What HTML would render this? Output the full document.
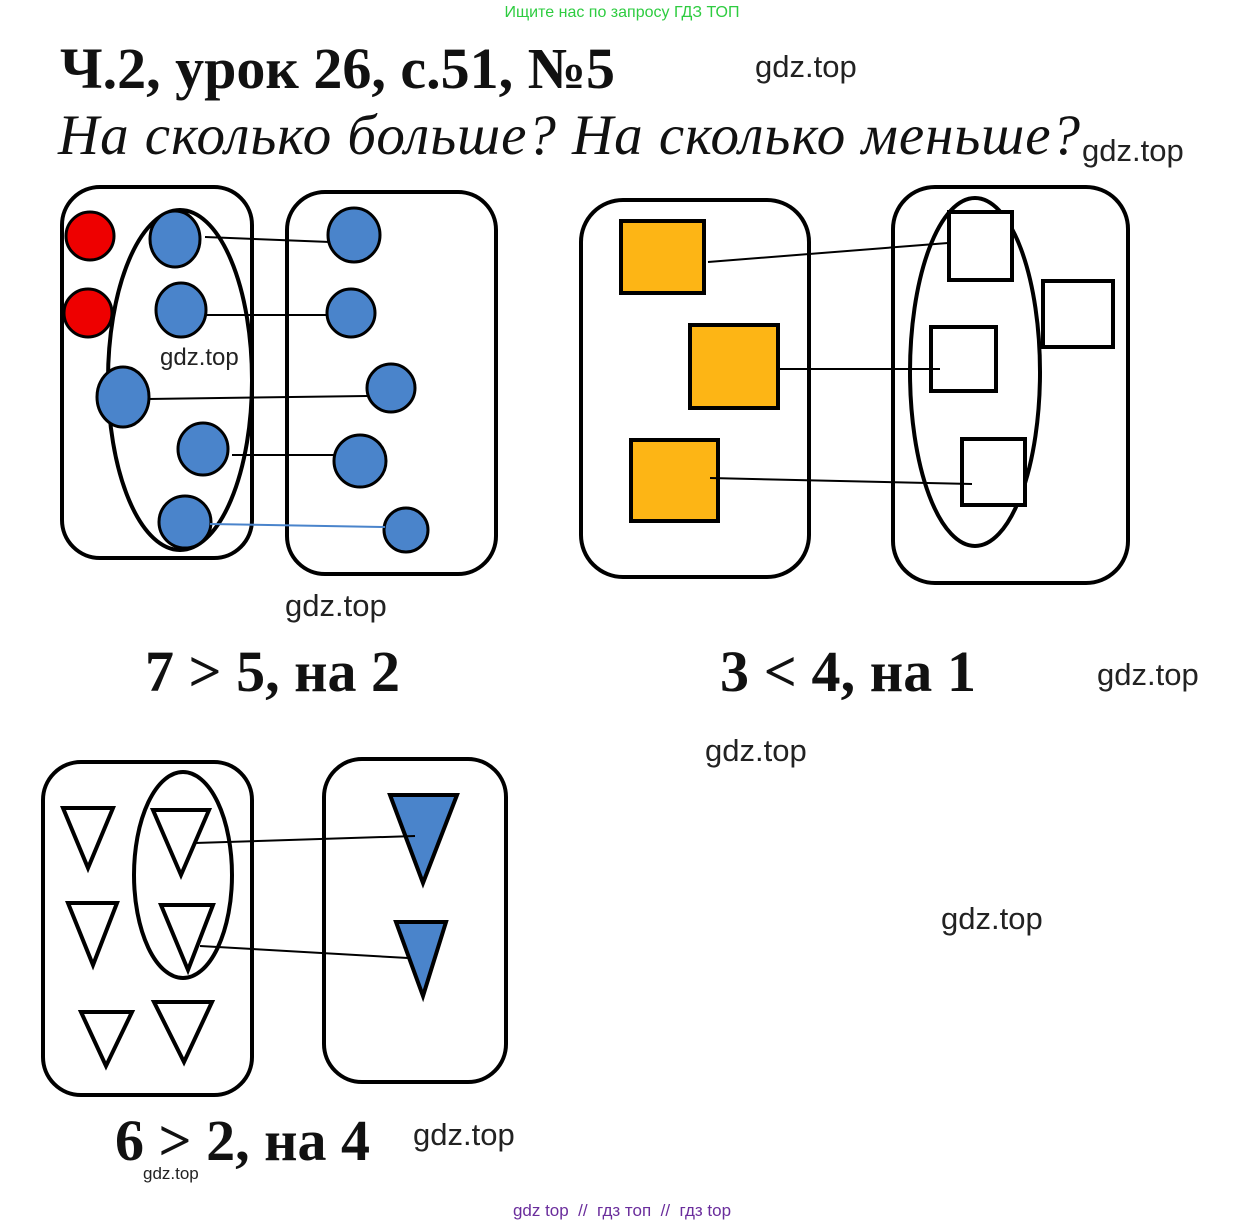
<!DOCTYPE html>
<html><head><meta charset="utf-8"><style>
body{margin:0;background:#fff;width:1245px;height:1225px;overflow:hidden}
svg{display:block}
.w{font-family:"Liberation Sans",sans-serif;font-size:31px;fill:#222}
.b{font-family:"Liberation Serif",serif;font-weight:bold;font-size:58px;fill:#111}
</style></head><body>
<svg width="1245" height="1225" viewBox="0 0 1245 1225" xmlns="http://www.w3.org/2000/svg">
<text x="622" y="17" text-anchor="middle" font-family="Liberation Sans,sans-serif" font-size="16" fill="#2ecc40">Ищите нас по запросу ГДЗ ТОП</text>
<text x="60" y="88" class="b" style="font-size:58px" textLength="555">Ч.2, урок 26, с.51, №5</text>
<text x="755" y="77" class="w">gdz.top</text>
<text x="58" y="154" font-family="Liberation Serif,serif" font-style="italic" font-size="57" fill="#111" textLength="1022">На сколько больше? На сколько меньше?</text>
<text x="1082" y="161" class="w">gdz.top</text>

<g fill="none" stroke="#000" stroke-width="4">
<rect x="62" y="187" width="190" height="371" rx="38"/>
<rect x="287" y="192" width="209" height="382" rx="38"/>
<ellipse cx="180" cy="380" rx="72" ry="170"/>
<rect x="581" y="200" width="228" height="377" rx="42"/>
<rect x="893" y="187" width="235" height="396" rx="42"/>
<ellipse cx="975" cy="372" rx="65" ry="174"/>
<rect x="43" y="762" width="209" height="333" rx="38"/>
<rect x="324" y="759" width="182" height="323" rx="38"/>
<ellipse cx="183" cy="875" rx="49" ry="103"/>
</g>
<g stroke="#000" stroke-width="3">
<circle cx="90" cy="236" r="24" fill="#e00"/>
<circle cx="88" cy="313" r="24" fill="#e00"/>
</g>
<g fill="#4a84cb" stroke="#000" stroke-width="3">
<ellipse cx="175" cy="239" rx="25" ry="28"/>
<ellipse cx="181" cy="310" rx="25" ry="27"/>
<ellipse cx="123" cy="397" rx="26" ry="30"/>
<ellipse cx="203" cy="449" rx="25" ry="26"/>
<ellipse cx="185" cy="522" rx="26" ry="26"/>
<ellipse cx="354" cy="235" rx="26" ry="27"/>
<ellipse cx="351" cy="313" rx="24" ry="24"/>
<ellipse cx="391" cy="388" rx="24" ry="24"/>
<ellipse cx="360" cy="461" rx="26" ry="26"/>
<ellipse cx="406" cy="530" rx="22" ry="22"/>
</g>
<g stroke="#000" stroke-width="2">
<line x1="205" y1="237" x2="330" y2="242"/>
<line x1="205" y1="315" x2="328" y2="315"/>
<line x1="148" y1="399" x2="367" y2="396"/>
<line x1="232" y1="455" x2="335" y2="455"/>
</g>
<line x1="210" y1="524" x2="385" y2="527" stroke="#4a84cb" stroke-width="2"/>
<text x="160" y="365" class="w" style="font-size:24px">gdz.top</text>

<g fill="#fdb515" stroke="#000" stroke-width="4">
<rect x="621" y="221" width="83" height="72"/>
<rect x="690" y="325" width="88" height="83"/>
<rect x="631" y="440" width="87" height="81"/>
</g>
<g fill="#fff" stroke="#000" stroke-width="4">
<rect x="949" y="212" width="63" height="68"/>
<rect x="1043" y="281" width="70" height="66"/>
<rect x="931" y="327" width="65" height="64"/>
<rect x="962" y="439" width="63" height="66"/>
</g>
<g stroke="#000" stroke-width="2">
<line x1="708" y1="262" x2="948" y2="243"/>
<line x1="778" y1="369" x2="940" y2="369"/>
<line x1="710" y1="478" x2="972" y2="484"/>
</g>
<text x="285" y="616" class="w">gdz.top</text>
<text x="145" y="691" class="b" textLength="255">7 &gt; 5, на 2</text>
<text x="720" y="691" class="b" textLength="256">3 &lt; 4, на 1</text>
<text x="1097" y="685" class="w">gdz.top</text>
<text x="705" y="761" class="w">gdz.top</text>
<text x="941" y="929" class="w">gdz.top</text>

<g fill="#fff" stroke="#000" stroke-width="4" stroke-linejoin="miter">
<polygon points="63,808 113,808 88,868"/>
<polygon points="153,810 209,810 181,875"/>
<polygon points="68,903 117,903 93,965"/>
<polygon points="161,905 213,905 188,970"/>
<polygon points="81,1012 132,1012 106,1066"/>
<polygon points="154,1002 212,1002 184,1062"/>
</g>
<g fill="#4a84cb" stroke="#000" stroke-width="4">
<polygon points="390,795 457,795 423,883"/>
<polygon points="396,922 446,922 423,996"/>
</g>
<g stroke="#000" stroke-width="2">
<line x1="195" y1="843" x2="415" y2="836"/>
<line x1="200" y1="946" x2="408" y2="958"/>
</g>
<text x="115" y="1160" class="b" textLength="255">6 &gt; 2, на 4</text>
<text x="413" y="1145" class="w">gdz.top</text>
<text x="143" y="1179" class="w" style="font-size:17px">gdz.top</text>
<text x="622" y="1216" text-anchor="middle" font-family="Liberation Sans,sans-serif" font-size="17" fill="#6a2d9c" xml:space="preserve">gdz top  //  гдз топ  //  гдз top</text>
</svg>
</body></html>
